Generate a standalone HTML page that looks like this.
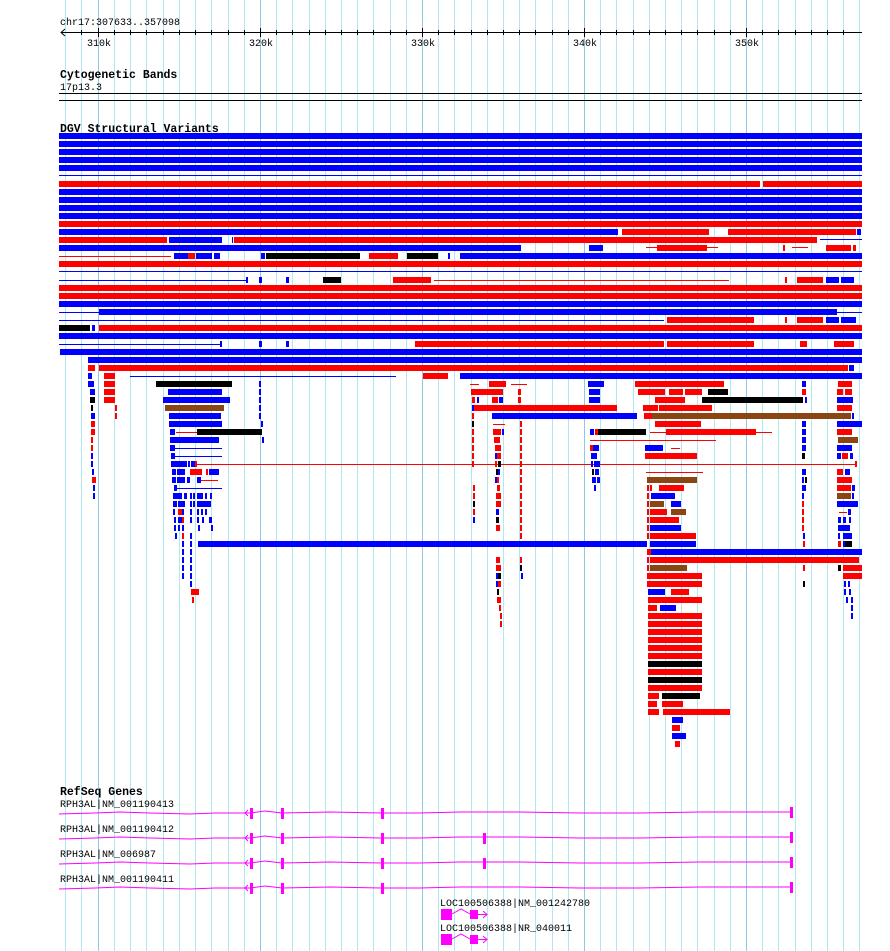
<!DOCTYPE html>
<html><head><meta charset="utf-8"><style>
body{margin:0;background:#fff}
svg{display:block}
.b{fill:#0000ff}.r{fill:#ff0000}.k{fill:#000}.n{fill:#8b4513}.m{fill:#ff00ff}
text{font-family:"Liberation Mono",monospace;font-size:10px;fill:#000}
.t{font-weight:bold;font-size:11.5px}
</style></head><body>
<svg width="890" height="951" xmlns="http://www.w3.org/2000/svg">
<g id="grid" stroke="#aee8f0" stroke-width="1">
<line x1="65.5" y1="0" x2="65.5" y2="951"/><line x1="81.5" y1="0" x2="81.5" y2="951"/>
<line x1="114.5" y1="0" x2="114.5" y2="951"/><line x1="130.5" y1="0" x2="130.5" y2="951"/><line x1="146.5" y1="0" x2="146.5" y2="951"/><line x1="163.5" y1="0" x2="163.5" y2="951"/><line x1="179.5" y1="0" x2="179.5" y2="951"/><line x1="195.5" y1="0" x2="195.5" y2="951"/><line x1="211.5" y1="0" x2="211.5" y2="951"/><line x1="228.5" y1="0" x2="228.5" y2="951"/><line x1="244.5" y1="0" x2="244.5" y2="951"/>
<line x1="276.5" y1="0" x2="276.5" y2="951"/><line x1="292.5" y1="0" x2="292.5" y2="951"/><line x1="309.5" y1="0" x2="309.5" y2="951"/><line x1="325.5" y1="0" x2="325.5" y2="951"/><line x1="341.5" y1="0" x2="341.5" y2="951"/><line x1="357.5" y1="0" x2="357.5" y2="951"/><line x1="373.5" y1="0" x2="373.5" y2="951"/><line x1="390.5" y1="0" x2="390.5" y2="951"/><line x1="406.5" y1="0" x2="406.5" y2="951"/>
<line x1="438.5" y1="0" x2="438.5" y2="951"/><line x1="454.5" y1="0" x2="454.5" y2="951"/><line x1="471.5" y1="0" x2="471.5" y2="951"/><line x1="487.5" y1="0" x2="487.5" y2="951"/><line x1="503.5" y1="0" x2="503.5" y2="951"/><line x1="519.5" y1="0" x2="519.5" y2="951"/><line x1="535.5" y1="0" x2="535.5" y2="951"/><line x1="552.5" y1="0" x2="552.5" y2="951"/><line x1="568.5" y1="0" x2="568.5" y2="951"/>
<line x1="600.5" y1="0" x2="600.5" y2="951"/><line x1="616.5" y1="0" x2="616.5" y2="951"/><line x1="633.5" y1="0" x2="633.5" y2="951"/><line x1="649.5" y1="0" x2="649.5" y2="951"/><line x1="665.5" y1="0" x2="665.5" y2="951"/><line x1="681.5" y1="0" x2="681.5" y2="951"/><line x1="697.5" y1="0" x2="697.5" y2="951"/><line x1="714.5" y1="0" x2="714.5" y2="951"/><line x1="730.5" y1="0" x2="730.5" y2="951"/>
<line x1="762.5" y1="0" x2="762.5" y2="951"/><line x1="778.5" y1="0" x2="778.5" y2="951"/><line x1="795.5" y1="0" x2="795.5" y2="951"/><line x1="811.5" y1="0" x2="811.5" y2="951"/><line x1="827.5" y1="0" x2="827.5" y2="951"/><line x1="843.5" y1="0" x2="843.5" y2="951"/><line x1="859.5" y1="0" x2="859.5" y2="951"/>
</g>
<g stroke="#8cc8e8" stroke-width="1">
<line x1="98.5" y1="0" x2="98.5" y2="951"/><line x1="260.5" y1="0" x2="260.5" y2="951"/><line x1="422.5" y1="0" x2="422.5" y2="951"/><line x1="584.5" y1="0" x2="584.5" y2="951"/><line x1="746.5" y1="0" x2="746.5" y2="951"/>
</g>
<text x="60" y="25">chr17:307633..357098</text>
<line x1="61" y1="32.5" x2="862" y2="32.5" stroke="#000"/>
<path d="M65 29 L61 32.5 L65 36" fill="none" stroke="#000"/>
<g stroke="#000">
<line x1="81.5" y1="30" x2="81.5" y2="35"/><line x1="98.5" y1="28" x2="98.5" y2="37"/><line x1="114.5" y1="30" x2="114.5" y2="35"/><line x1="130.5" y1="30" x2="130.5" y2="35"/><line x1="146.5" y1="30" x2="146.5" y2="35"/><line x1="163.5" y1="30" x2="163.5" y2="35"/><line x1="179.5" y1="30" x2="179.5" y2="35"/><line x1="195.5" y1="30" x2="195.5" y2="35"/><line x1="211.5" y1="30" x2="211.5" y2="35"/><line x1="228.5" y1="30" x2="228.5" y2="35"/><line x1="244.5" y1="30" x2="244.5" y2="35"/><line x1="260.5" y1="28" x2="260.5" y2="37"/><line x1="276.5" y1="30" x2="276.5" y2="35"/><line x1="292.5" y1="30" x2="292.5" y2="35"/><line x1="309.5" y1="30" x2="309.5" y2="35"/><line x1="325.5" y1="30" x2="325.5" y2="35"/><line x1="341.5" y1="30" x2="341.5" y2="35"/><line x1="357.5" y1="30" x2="357.5" y2="35"/><line x1="373.5" y1="30" x2="373.5" y2="35"/><line x1="390.5" y1="30" x2="390.5" y2="35"/><line x1="406.5" y1="30" x2="406.5" y2="35"/><line x1="422.5" y1="28" x2="422.5" y2="37"/><line x1="438.5" y1="30" x2="438.5" y2="35"/><line x1="454.5" y1="30" x2="454.5" y2="35"/><line x1="471.5" y1="30" x2="471.5" y2="35"/><line x1="487.5" y1="30" x2="487.5" y2="35"/><line x1="503.5" y1="30" x2="503.5" y2="35"/><line x1="519.5" y1="30" x2="519.5" y2="35"/><line x1="535.5" y1="30" x2="535.5" y2="35"/><line x1="552.5" y1="30" x2="552.5" y2="35"/><line x1="568.5" y1="30" x2="568.5" y2="35"/><line x1="584.5" y1="28" x2="584.5" y2="37"/><line x1="600.5" y1="30" x2="600.5" y2="35"/><line x1="616.5" y1="30" x2="616.5" y2="35"/><line x1="633.5" y1="30" x2="633.5" y2="35"/><line x1="649.5" y1="30" x2="649.5" y2="35"/><line x1="665.5" y1="30" x2="665.5" y2="35"/><line x1="681.5" y1="30" x2="681.5" y2="35"/><line x1="697.5" y1="30" x2="697.5" y2="35"/><line x1="714.5" y1="30" x2="714.5" y2="35"/><line x1="730.5" y1="30" x2="730.5" y2="35"/><line x1="746.5" y1="28" x2="746.5" y2="37"/><line x1="762.5" y1="30" x2="762.5" y2="35"/><line x1="778.5" y1="30" x2="778.5" y2="35"/><line x1="795.5" y1="30" x2="795.5" y2="35"/><line x1="811.5" y1="30" x2="811.5" y2="35"/><line x1="827.5" y1="30" x2="827.5" y2="35"/><line x1="843.5" y1="30" x2="843.5" y2="35"/>
</g>
<text x="87" y="46">310k</text><text x="249" y="46">320k</text><text x="411" y="46">330k</text><text x="573" y="46">340k</text><text x="735" y="46">350k</text>
<text class="t" x="60" y="78">Cytogenetic Bands</text>
<text x="60" y="90">17p13.3</text>
<rect class="k" x="59" y="93" width="803" height="1"/>
<rect class="k" x="59" y="100" width="803" height="1"/>
<text class="t" x="60" y="132">DGV Structural Variants</text>
<rect class="b" x="59" y="133" width="803" height="6"/>
<rect class="b" x="59" y="141" width="803" height="6"/>
<rect class="b" x="59" y="149" width="803" height="6"/>
<rect class="b" x="59" y="157" width="803" height="6"/>
<rect class="b" x="59" y="165" width="803" height="6"/>
<rect class="b" x="59" y="175" width="803" height="1"/>
<rect class="r" x="59" y="181" width="701" height="6"/><rect class="r" x="763" y="181" width="99" height="6"/>
<rect class="b" x="59" y="189" width="803" height="6"/>
<rect class="b" x="59" y="197" width="803" height="6"/>
<rect class="b" x="59" y="205" width="803" height="6"/>
<rect class="b" x="59" y="213" width="803" height="6"/>
<rect class="r" x="59" y="221" width="803" height="6"/>
<rect class="b" x="59" y="229" width="559" height="6"/><rect class="r" x="622" y="229" width="87" height="6"/><rect class="r" x="728" y="229" width="128" height="6"/><rect class="b" x="857" y="229" width="4" height="6"/>
<rect class="r" x="59" y="237" width="108" height="6"/><rect class="b" x="169" y="237" width="53" height="6"/><rect class="b" x="232" y="237" width="1" height="6"/><rect class="r" x="234" y="237" width="583" height="6"/><rect class="b" x="820" y="239" width="42" height="1"/>
<rect class="b" x="59" y="245" width="462" height="6"/><rect class="b" x="589" y="245" width="14" height="6"/><rect class="r" x="646" y="247" width="72" height="1"/><rect class="r" x="657" y="245" width="50" height="6"/><rect class="r" x="783" y="245" width="2" height="6"/><rect class="r" x="792" y="247" width="16" height="1"/><rect class="r" x="826" y="245" width="25" height="6"/><rect class="r" x="853" y="245" width="3" height="6"/>
<rect class="r" x="59" y="256" width="112" height="1"/><rect class="b" x="174" y="253" width="15" height="6"/><rect class="r" x="188" y="253" width="7" height="6"/><rect class="b" x="196" y="253" width="16" height="6"/><rect class="b" x="214" y="253" width="6" height="6"/><rect class="b" x="261" y="253" width="4" height="6"/><rect class="k" x="266" y="253" width="94" height="6"/><rect class="r" x="369" y="253" width="29" height="6"/><rect class="k" x="407" y="253" width="31" height="6"/><rect class="b" x="448" y="253" width="2" height="6"/><rect class="b" x="460" y="253" width="402" height="6"/>
<rect class="r" x="59" y="261" width="803" height="6"/>
<rect class="b" x="59" y="271" width="803" height="1"/>
<rect class="b" x="59" y="280" width="187" height="1"/><rect class="b" x="246" y="277" width="2" height="6"/><rect class="b" x="259" y="277" width="3" height="6"/><rect class="b" x="286" y="277" width="3" height="6"/><rect class="k" x="323" y="277" width="18" height="6"/><rect class="r" x="393" y="277" width="38" height="6"/><rect class="r" x="434" y="280" width="295" height="1"/><rect class="r" x="785" y="277" width="2" height="6"/><rect class="r" x="797" y="277" width="26" height="6"/><rect class="b" x="826" y="277" width="13" height="6"/><rect class="b" x="841" y="277" width="13" height="6"/>
<rect class="r" x="59" y="285" width="803" height="6"/>
<rect class="r" x="59" y="293" width="803" height="6"/>
<rect class="b" x="59" y="301" width="803" height="6"/>
<rect class="b" x="59" y="312" width="803" height="1"/><rect class="b" x="99" y="309" width="738" height="6"/>
<rect class="b" x="59" y="320" width="605" height="1"/><rect class="r" x="667" y="317" width="87" height="6"/><rect class="r" x="785" y="317" width="2" height="6"/><rect class="r" x="797" y="317" width="26" height="6"/><rect class="b" x="826" y="317" width="13" height="6"/><rect class="b" x="841" y="317" width="15" height="6"/>
<rect class="k" x="59" y="325" width="31" height="6"/><rect class="b" x="92" y="325" width="3" height="6"/><rect class="r" x="99" y="325" width="763" height="6"/>
<rect class="b" x="59" y="333" width="803" height="6"/>
<rect class="b" x="59" y="344" width="161" height="1"/><rect class="b" x="220" y="341" width="2" height="6"/><rect class="b" x="259" y="341" width="3" height="6"/><rect class="b" x="286" y="341" width="3" height="6"/><rect class="r" x="415" y="341" width="249" height="6"/><rect class="r" x="667" y="341" width="87" height="6"/><rect class="r" x="800" y="341" width="7" height="6"/><rect class="r" x="834" y="341" width="20" height="6"/>
<rect class="b" x="60" y="349" width="802" height="6"/>
<rect class="b" x="88" y="357" width="774" height="6"/>
<rect class="r" x="88" y="365" width="7" height="6"/><rect class="r" x="99" y="365" width="749" height="6"/><rect class="b" x="849" y="365" width="5" height="6"/>
<rect class="b" x="88" y="373" width="4" height="6"/><rect class="r" x="104" y="373" width="11" height="6"/><rect class="b" x="130" y="376" width="266" height="1"/><rect class="r" x="423" y="373" width="25" height="6"/><rect class="b" x="460" y="373" width="402" height="6"/>
<g>
<rect class="b" x="88" y="381" width="6" height="6"/><rect class="r" x="104" y="381" width="11" height="6"/><rect class="k" x="156" y="381" width="76" height="6"/><rect class="b" x="259" y="381" width="2" height="6"/><rect class="r" x="470" y="384" width="9" height="1"/><rect class="r" x="489" y="381" width="17" height="6"/><rect class="r" x="511" y="384" width="16" height="1"/><rect class="b" x="588" y="381" width="16" height="6"/><rect class="r" x="635" y="381" width="89" height="6"/><rect class="b" x="802" y="381" width="4" height="6"/><rect class="r" x="838" y="381" width="14" height="6"/>
<rect class="b" x="90" y="389" width="5" height="6"/><rect class="r" x="104" y="389" width="11" height="6"/><rect class="b" x="168" y="389" width="54" height="6"/><rect class="b" x="259" y="389" width="2" height="6"/><rect class="r" x="471" y="389" width="32" height="6"/><rect class="r" x="518" y="389" width="3" height="6"/><rect class="b" x="589" y="389" width="11" height="6"/><rect class="r" x="638" y="389" width="27" height="6"/><rect class="r" x="669" y="389" width="14" height="6"/><rect class="r" x="685" y="389" width="17" height="6"/><rect class="k" x="708" y="389" width="20" height="6"/><rect class="r" x="802" y="389" width="4" height="6"/><rect class="r" x="837" y="389" width="6" height="6"/><rect class="r" x="845" y="389" width="7" height="6"/>
<rect class="k" x="90" y="397" width="5" height="6"/><rect class="r" x="104" y="397" width="11" height="6"/><rect class="b" x="163" y="397" width="67" height="6"/><rect class="b" x="259" y="397" width="2" height="6"/><rect class="r" x="472" y="397" width="3" height="6"/><rect class="b" x="477" y="397" width="2" height="6"/><rect class="r" x="492" y="397" width="6" height="6"/><rect class="b" x="499" y="397" width="4" height="6"/><rect class="r" x="518" y="397" width="3" height="6"/><rect class="b" x="589" y="397" width="11" height="6"/><rect class="r" x="655" y="397" width="30" height="6"/><rect class="k" x="702" y="397" width="101" height="6"/><rect class="b" x="805" y="397" width="2" height="6"/><rect class="b" x="837" y="397" width="16" height="6"/>
<rect class="k" x="91" y="405" width="2" height="6"/><rect class="r" x="115" y="405" width="2" height="6"/><rect class="n" x="165" y="405" width="59" height="6"/><rect class="b" x="259" y="405" width="2" height="6"/><rect class="b" x="472" y="405" width="2" height="6"/><rect class="r" x="474" y="405" width="143" height="6"/><rect class="r" x="643" y="405" width="15" height="6"/><rect class="r" x="659" y="405" width="53" height="6"/><rect class="r" x="837" y="405" width="15" height="6"/>
<rect class="b" x="91" y="413" width="4" height="6"/><rect class="r" x="115" y="413" width="2" height="6"/><rect class="b" x="169" y="413" width="52" height="6"/><rect class="b" x="259" y="413" width="2" height="6"/><rect class="r" x="472" y="413" width="2" height="6"/><rect class="b" x="492" y="413" width="145" height="6"/><rect class="r" x="644" y="413" width="8" height="6"/><rect class="n" x="652" y="413" width="199" height="6"/><rect class="b" x="852" y="413" width="2" height="6"/>
<rect class="r" x="91" y="421" width="4" height="6"/><rect class="b" x="169" y="421" width="53" height="6"/><rect class="b" x="261" y="421" width="2" height="6"/><rect class="k" x="472" y="421" width="2" height="6"/><rect class="r" x="493" y="424" width="12" height="1"/><rect class="r" x="520" y="421" width="2" height="6"/><rect class="r" x="655" y="421" width="46" height="6"/><rect class="b" x="802" y="421" width="4" height="6"/><rect class="b" x="837" y="421" width="25" height="6"/>
<rect class="r" x="91" y="429" width="4" height="6"/><rect class="b" x="170" y="429" width="5" height="6"/><rect class="r" x="176" y="432" width="21" height="1"/><rect class="k" x="197" y="429" width="65" height="6"/><rect class="r" x="472" y="429" width="2" height="6"/><rect class="r" x="493" y="429" width="8" height="6"/><rect class="b" x="502" y="429" width="2" height="6"/><rect class="r" x="520" y="429" width="2" height="6"/><rect class="b" x="590" y="429" width="4" height="6"/><rect class="r" x="595" y="429" width="3" height="6"/><rect class="k" x="598" y="429" width="48" height="6"/><rect class="r" x="650" y="432" width="122" height="1"/><rect class="r" x="666" y="429" width="90" height="6"/><rect class="b" x="802" y="429" width="4" height="6"/><rect class="r" x="837" y="429" width="15" height="6"/>
<rect class="r" x="91" y="437" width="2" height="6"/><rect class="b" x="170" y="437" width="49" height="6"/><rect class="b" x="262" y="437" width="2" height="6"/><rect class="r" x="472" y="437" width="2" height="6"/><rect class="r" x="494" y="437" width="6" height="6"/><rect class="r" x="520" y="437" width="2" height="6"/><rect class="r" x="590" y="440" width="126" height="1"/><rect class="b" x="802" y="437" width="4" height="6"/><rect class="n" x="838" y="437" width="20" height="6"/>
<rect class="r" x="91" y="445" width="2" height="6"/><rect class="b" x="170" y="445" width="5" height="6"/><rect class="b" x="175" y="448" width="47" height="1"/><rect class="r" x="472" y="445" width="2" height="6"/><rect class="r" x="495" y="445" width="6" height="6"/><rect class="r" x="520" y="445" width="2" height="6"/><rect class="r" x="590" y="445" width="3" height="6"/><rect class="b" x="593" y="445" width="6" height="6"/><rect class="b" x="645" y="445" width="18" height="6"/><rect class="r" x="671" y="448" width="9" height="1"/><rect class="b" x="802" y="445" width="4" height="6"/><rect class="b" x="837" y="445" width="15" height="6"/>
<rect class="b" x="91" y="453" width="2" height="6"/><rect class="b" x="171" y="453" width="4" height="6"/><rect class="b" x="175" y="456" width="47" height="1"/><rect class="r" x="472" y="453" width="2" height="6"/><rect class="b" x="495" y="453" width="2" height="6"/><rect class="r" x="497" y="453" width="4" height="6"/><rect class="r" x="520" y="453" width="2" height="6"/><rect class="b" x="591" y="453" width="6" height="6"/><rect class="r" x="645" y="453" width="52" height="6"/><rect class="k" x="802" y="453" width="3" height="6"/><rect class="b" x="837" y="453" width="4" height="6"/><rect class="r" x="842" y="453" width="6" height="6"/><rect class="b" x="850" y="453" width="3" height="6"/>
<rect class="b" x="91" y="461" width="2" height="6"/><rect class="b" x="171" y="461" width="16" height="6"/><rect class="b" x="188" y="461" width="2" height="6"/><rect class="b" x="191" y="461" width="4" height="6"/><rect class="r" x="195" y="461" width="2" height="6"/><rect class="r" x="197" y="464" width="659" height="1"/><rect class="r" x="855" y="461" width="2" height="6"/><rect class="r" x="472" y="461" width="2" height="6"/><rect class="r" x="495" y="461" width="2" height="6"/><rect class="k" x="498" y="461" width="3" height="6"/><rect class="r" x="520" y="461" width="2" height="6"/><rect class="b" x="591" y="461" width="2" height="6"/><rect class="b" x="594" y="461" width="6" height="6"/>
<rect class="b" x="92" y="469" width="2" height="6"/><rect class="b" x="172" y="469" width="4" height="6"/><rect class="b" x="177" y="469" width="8" height="6"/><rect class="r" x="190" y="469" width="12" height="6"/><rect class="r" x="206" y="469" width="2" height="6"/><rect class="b" x="209" y="469" width="10" height="6"/><rect class="k" x="496" y="469" width="2" height="6"/><rect class="b" x="498" y="469" width="2" height="6"/><rect class="r" x="520" y="469" width="2" height="6"/><rect class="k" x="592" y="469" width="2" height="6"/><rect class="b" x="595" y="469" width="4" height="6"/><rect class="r" x="646" y="472" width="57" height="1"/><rect class="b" x="802" y="469" width="4" height="6"/><rect class="r" x="837" y="469" width="6" height="6"/><rect class="b" x="845" y="469" width="5" height="6"/>
<rect class="r" x="92" y="477" width="4" height="6"/><rect class="b" x="172" y="477" width="4" height="6"/><rect class="b" x="177" y="477" width="8" height="6"/><rect class="b" x="187" y="477" width="3" height="6"/><rect class="b" x="197" y="477" width="4" height="6"/><rect class="r" x="201" y="480" width="17" height="1"/><rect class="b" x="495" y="477" width="2" height="6"/><rect class="r" x="497" y="477" width="2" height="6"/><rect class="r" x="520" y="477" width="2" height="6"/><rect class="b" x="592" y="477" width="4" height="6"/><rect class="b" x="597" y="477" width="3" height="6"/><rect class="n" x="647" y="477" width="50" height="6"/><rect class="b" x="802" y="477" width="2" height="6"/><rect class="k" x="805" y="477" width="2" height="6"/><rect class="r" x="837" y="477" width="15" height="6"/>
<rect class="b" x="93" y="485" width="2" height="6"/><rect class="b" x="174" y="485" width="3" height="6"/><rect class="b" x="177" y="488" width="45" height="1"/><rect class="r" x="473" y="485" width="2" height="6"/><rect class="r" x="497" y="485" width="3" height="6"/><rect class="r" x="520" y="485" width="2" height="6"/><rect class="b" x="594" y="485" width="2" height="6"/><rect class="r" x="647" y="485" width="2" height="6"/><rect class="r" x="650" y="485" width="2" height="6"/><rect class="r" x="659" y="485" width="25" height="6"/><rect class="b" x="802" y="485" width="4" height="6"/><rect class="r" x="837" y="485" width="14" height="6"/><rect class="b" x="852" y="485" width="3" height="6"/>
<rect class="b" x="93" y="493" width="2" height="6"/><rect class="b" x="173" y="493" width="9" height="6"/><rect class="b" x="184" y="493" width="3" height="6"/><rect class="b" x="190" y="493" width="2" height="6"/><rect class="b" x="193" y="493" width="2" height="6"/><rect class="b" x="197" y="493" width="6" height="6"/><rect class="b" x="205" y="493" width="2" height="6"/><rect class="b" x="210" y="493" width="2" height="6"/><rect class="r" x="473" y="493" width="2" height="6"/><rect class="r" x="496" y="493" width="5" height="6"/><rect class="r" x="520" y="493" width="2" height="6"/><rect class="r" x="647" y="493" width="2" height="6"/><rect class="b" x="651" y="493" width="24" height="6"/><rect class="b" x="802" y="493" width="2" height="6"/><rect class="n" x="837" y="493" width="14" height="6"/><rect class="b" x="852" y="493" width="2" height="6"/>
<rect class="b" x="173" y="501" width="4" height="6"/><rect class="b" x="178" y="501" width="7" height="6"/><rect class="b" x="190" y="501" width="2" height="6"/><rect class="b" x="193" y="501" width="2" height="6"/><rect class="b" x="197" y="501" width="14" height="6"/><rect class="k" x="473" y="501" width="2" height="6"/><rect class="r" x="496" y="501" width="5" height="6"/><rect class="r" x="520" y="501" width="2" height="6"/><rect class="r" x="647" y="501" width="2" height="6"/><rect class="n" x="650" y="501" width="14" height="6"/><rect class="b" x="671" y="501" width="10" height="6"/><rect class="r" x="802" y="501" width="2" height="6"/><rect class="b" x="837" y="501" width="21" height="6"/>
<rect class="b" x="173" y="509" width="2" height="6"/><rect class="r" x="178" y="509" width="4" height="6"/><rect class="b" x="182" y="509" width="2" height="6"/><rect class="b" x="190" y="509" width="2" height="6"/><rect class="b" x="197" y="509" width="2" height="6"/><rect class="b" x="201" y="509" width="2" height="6"/><rect class="b" x="205" y="509" width="2" height="6"/><rect class="r" x="473" y="509" width="2" height="6"/><rect class="b" x="496" y="509" width="3" height="6"/><rect class="r" x="520" y="509" width="2" height="6"/><rect class="r" x="647" y="509" width="2" height="6"/><rect class="r" x="650" y="509" width="17" height="6"/><rect class="n" x="671" y="509" width="15" height="6"/><rect class="r" x="802" y="509" width="2" height="6"/><rect class="r" x="839" y="512" width="8" height="1"/><rect class="b" x="848" y="509" width="3" height="6"/>
<rect class="b" x="174" y="517" width="2" height="6"/><rect class="b" x="178" y="517" width="4" height="6"/><rect class="r" x="182" y="517" width="2" height="6"/><rect class="b" x="190" y="517" width="2" height="6"/><rect class="b" x="197" y="517" width="2" height="6"/><rect class="b" x="202" y="517" width="2" height="6"/><rect class="b" x="209" y="517" width="3" height="6"/><rect class="b" x="473" y="517" width="2" height="6"/><rect class="k" x="496" y="517" width="3" height="6"/><rect class="r" x="520" y="517" width="2" height="6"/><rect class="r" x="647" y="517" width="2" height="6"/><rect class="r" x="650" y="517" width="29" height="6"/><rect class="r" x="802" y="517" width="2" height="6"/><rect class="b" x="838" y="517" width="3" height="6"/><rect class="b" x="843" y="517" width="3" height="6"/><rect class="b" x="849" y="517" width="2" height="6"/>
<rect class="b" x="174" y="525" width="2" height="6"/><rect class="b" x="178" y="525" width="2" height="6"/><rect class="b" x="182" y="525" width="2" height="6"/><rect class="b" x="198" y="525" width="2" height="6"/><rect class="b" x="211" y="525" width="2" height="6"/><rect class="r" x="496" y="525" width="4" height="6"/><rect class="r" x="520" y="525" width="2" height="6"/><rect class="r" x="647" y="525" width="2" height="6"/><rect class="b" x="650" y="525" width="31" height="6"/><rect class="r" x="802" y="525" width="2" height="6"/><rect class="b" x="838" y="525" width="12" height="6"/>
<rect class="b" x="175" y="533" width="2" height="6"/><rect class="r" x="182" y="533" width="2" height="6"/><rect class="b" x="190" y="533" width="2" height="6"/><rect class="r" x="520" y="533" width="2" height="6"/><rect class="r" x="647" y="533" width="2" height="6"/><rect class="r" x="650" y="533" width="46" height="6"/><rect class="b" x="803" y="533" width="2" height="6"/><rect class="b" x="838" y="533" width="2" height="6"/><rect class="b" x="843" y="533" width="9" height="6"/>
<rect class="b" x="182" y="541" width="2" height="6"/><rect class="b" x="190" y="541" width="2" height="6"/><rect class="b" x="198" y="541" width="449" height="6"/><rect class="b" x="650" y="541" width="46" height="6"/><rect class="r" x="803" y="541" width="2" height="6"/><rect class="r" x="838" y="541" width="3" height="6"/><rect class="b" x="843" y="541" width="2" height="6"/><rect class="k" x="845" y="541" width="7" height="6"/>
<rect class="b" x="182" y="549" width="2" height="6"/><rect class="b" x="190" y="549" width="2" height="6"/><rect class="r" x="647" y="549" width="4" height="6"/><rect class="b" x="651" y="549" width="211" height="6"/>
<rect class="b" x="182" y="557" width="2" height="6"/><rect class="b" x="190" y="557" width="2" height="6"/><rect class="r" x="496" y="557" width="4" height="6"/><rect class="r" x="520" y="557" width="2" height="6"/><rect class="r" x="647" y="557" width="2" height="6"/><rect class="r" x="650" y="557" width="209" height="6"/>
<rect class="b" x="182" y="565" width="2" height="6"/><rect class="b" x="190" y="565" width="2" height="6"/><rect class="r" x="496" y="565" width="5" height="6"/><rect class="k" x="520" y="565" width="2" height="6"/><rect class="r" x="647" y="565" width="2" height="6"/><rect class="n" x="650" y="565" width="37" height="6"/><rect class="r" x="803" y="565" width="2" height="6"/><rect class="k" x="838" y="565" width="3" height="6"/><rect class="r" x="843" y="565" width="19" height="6"/>
<rect class="b" x="182" y="573" width="2" height="6"/><rect class="b" x="190" y="573" width="2" height="6"/><rect class="b" x="496" y="573" width="2" height="6"/><rect class="k" x="498" y="573" width="3" height="6"/><rect class="b" x="521" y="573" width="2" height="6"/><rect class="r" x="647" y="573" width="55" height="6"/><rect class="r" x="843" y="573" width="19" height="6"/>
<rect class="b" x="190" y="581" width="2" height="6"/><rect class="b" x="496" y="581" width="2" height="6"/><rect class="r" x="498" y="581" width="3" height="6"/><rect class="r" x="647" y="581" width="55" height="6"/><rect class="k" x="803" y="581" width="2" height="6"/><rect class="b" x="844" y="581" width="2" height="6"/><rect class="b" x="848" y="581" width="2" height="6"/>
<rect class="r" x="191" y="589" width="8" height="6"/><rect class="k" x="497" y="589" width="2" height="6"/><rect class="b" x="648" y="589" width="17" height="6"/><rect class="r" x="671" y="589" width="18" height="6"/><rect class="b" x="844" y="589" width="2" height="6"/><rect class="b" x="849" y="589" width="2" height="6"/>
<rect class="r" x="192" y="597" width="2" height="6"/><rect class="r" x="497" y="597" width="4" height="6"/><rect class="r" x="648" y="597" width="54" height="6"/><rect class="b" x="846" y="597" width="2" height="6"/><rect class="b" x="851" y="597" width="2" height="6"/>
<rect class="r" x="499" y="605" width="2" height="6"/><rect class="r" x="648" y="605" width="9" height="6"/><rect class="b" x="660" y="605" width="16" height="6"/><rect class="b" x="851" y="605" width="2" height="6"/>
<rect class="r" x="500" y="613" width="2" height="6"/><rect class="r" x="648" y="613" width="54" height="6"/><rect class="b" x="851" y="613" width="2" height="6"/>
<rect class="r" x="500" y="621" width="2" height="6"/><rect class="r" x="648" y="621" width="54" height="6"/>
<rect class="r" x="648" y="629" width="54" height="6"/>
<rect class="r" x="648" y="637" width="54" height="6"/>
<rect class="r" x="648" y="645" width="54" height="6"/>
<rect class="r" x="648" y="653" width="54" height="6"/>
<rect class="k" x="648" y="661" width="54" height="6"/>
<rect class="r" x="648" y="669" width="54" height="6"/>
<rect class="k" x="648" y="677" width="54" height="6"/>
<rect class="r" x="648" y="685" width="54" height="6"/>
<rect class="r" x="648" y="693" width="11" height="6"/><rect class="k" x="662" y="693" width="38" height="6"/>
<rect class="r" x="648" y="701" width="9" height="6"/><rect class="r" x="662" y="701" width="21" height="6"/>
<rect class="r" x="648" y="709" width="11" height="6"/><rect class="r" x="663" y="709" width="67" height="6"/>
<rect class="b" x="672" y="717" width="11" height="6"/>
<rect class="r" x="672" y="725" width="8" height="6"/>
<rect class="b" x="672" y="733" width="14" height="6"/>
<rect class="r" x="675" y="741" width="5" height="6"/>
</g>
<text class="t" x="60" y="795">RefSeq Genes</text>
<text x="60" y="807">RPH3AL|NM_001190413</text>
<text x="60" y="832">RPH3AL|NM_001190412</text>
<text x="60" y="857">RPH3AL|NM_006987</text>
<text x="60" y="882">RPH3AL|NM_001190411</text>
<g fill="none" stroke="#ff00ff" stroke-width="1">
<polyline points="59,814 95,813 120,812 150,813 190,814 215,813 250,813 265,811 282,813 330,812 381,813 420,813 460,812 520,812 580,813 640,813 700,812 790,812"/>
<polyline points="59,839 95,838 120,837 150,838 190,839 215,838 250,838 265,836 282,838 330,837 381,838 420,838 460,837 520,837 580,838 640,838 700,837 790,837"/>
<polyline points="59,864 95,863 120,862 150,863 190,864 215,863 250,863 265,861 282,863 330,862 381,863 420,863 460,862 520,862 580,863 640,863 700,862 790,862"/>
<polyline points="59,889 95,888 120,887 150,888 190,889 215,888 250,888 265,886 282,888 330,887 381,888 420,888 460,887 520,887 580,888 640,888 700,887 790,887"/>
<path d="M248 810 L245 813 L248 816 M248 835 L245 838 L248 841 M248 860 L245 863 L248 866 M248 885 L245 888 L248 891"/>
</g>
<g>
<rect class="m" x="250" y="808" width="3" height="11"/><rect class="m" x="281" y="808" width="3" height="11"/><rect class="m" x="381" y="808" width="3" height="11"/><rect class="m" x="790" y="807" width="3" height="11"/>
<rect class="m" x="250" y="833" width="3" height="11"/><rect class="m" x="281" y="833" width="3" height="11"/><rect class="m" x="381" y="833" width="3" height="11"/><rect class="m" x="483" y="833" width="3" height="11"/><rect class="m" x="790" y="832" width="3" height="11"/>
<rect class="m" x="250" y="858" width="3" height="11"/><rect class="m" x="281" y="858" width="3" height="11"/><rect class="m" x="381" y="858" width="3" height="11"/><rect class="m" x="483" y="858" width="3" height="11"/><rect class="m" x="790" y="857" width="3" height="11"/>
<rect class="m" x="250" y="883" width="3" height="11"/><rect class="m" x="281" y="883" width="3" height="11"/><rect class="m" x="381" y="883" width="3" height="11"/><rect class="m" x="790" y="882" width="3" height="11"/>
</g>
<text x="440" y="906">LOC100506388|NM_001242780</text>
<text x="440" y="931">LOC100506388|NR_040011</text>
<rect class="m" x="441" y="909" width="11" height="11"/><rect class="m" x="470" y="910" width="8" height="9"/>
<rect class="m" x="441" y="934" width="11" height="11"/><rect class="m" x="470" y="935" width="8" height="9"/>
<g fill="none" stroke="#ff00ff">
<polyline points="452,914 461,909 470,914"/><path d="M478 914.5 H487 M483 911 L487 914.5 L483 918"/>
<polyline points="452,939 461,934 470,939"/><path d="M478 939.5 H487 M483 936 L487 939.5 L483 943"/>
</g>
</svg>
</body></html>
